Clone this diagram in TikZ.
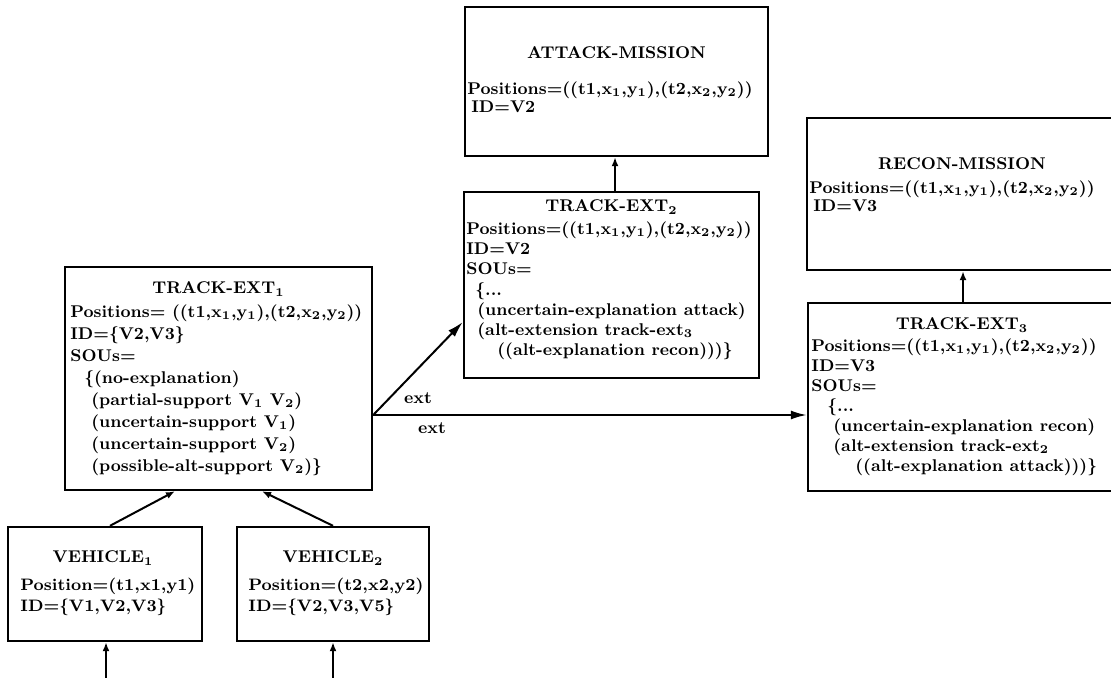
\documentclass[tikz,border=0pt]{standalone}
\usetikzlibrary{arrows.meta,calc}

% bold text face used in every box
\newcommand\boxface[2][8.5]{\fontsize{#1}{#2}\selectfont\bfseries\lineskiplimit=-10pt\lineskip=0pt}
\newcommand\sub[1]{\textsubscript{#1}}

\tikzset{
  frame/.style={draw, line width=1.2pt, inner sep=0pt},
  ttl/.style={inner sep=0pt, font=\boxface{10pt}},
  body/.style={inner sep=0pt, align=left, anchor=north west, font=\boxface{#1}},
  body/.default=10pt,
  vbody/.style={inner sep=0pt, align=left, anchor=north west, font=\boxface[8.3]{10.5pt}},
  link/.style={line width=1pt, -{Latex[length=4.5pt,width=3.5pt]}},
  extlink/.style={line width=1pt, -{Latex[length=8pt,width=4.5pt]}},
  tag/.style={inner sep=0pt, font=\boxface{10pt}},
}

\begin{document}
\begin{tikzpicture}[x=0.5pt, y=-0.5pt]
\useasboundingbox (0,0) rectangle (1111,678);

% ---------- frames ----------
\node[frame, minimum width=153.5pt, minimum height=111.5pt] (T1)  at (218.5,378.5) {};
\node[frame, minimum width=151.5pt, minimum height=74.5pt]  (ATT) at (616.5,81.5)  {};
\node[frame, minimum width=147.5pt, minimum height=93pt]    (T2)  at (611.5,285)   {};
\node[frame, minimum width=153.5pt, minimum height=76pt]    (REC) at (960.5,194)   {};
\node[frame, minimum width=153pt,   minimum height=94pt]    (T3)  at (961,397)     {};
\node[frame, minimum width=97pt,    minimum height=57pt]    (V1)  at (105,584)     {};
\node[frame, minimum width=96pt,    minimum height=57pt]    (V2)  at (333,584)     {};

% ---------- titles ----------
\node[ttl] (T1t)  at (218.5,289) {TRACK-EXT\sub{1}};
\node[ttl] (ATTt) at (616.5,53)  {ATTACK-MISSION};
\node[ttl] (T2t)  at (611.5,207) {TRACK-EXT\sub{2}};
\node[ttl] (RECt) at (962,164)   {RECON-MISSION};
\node[ttl] (T3t)  at (962,325)   {TRACK-EXT\sub{3}};
\node[ttl] (V1t)  at (103,558)   {VEHICLE\sub{1}};
\node[ttl] (V2t)  at (333,558)   {VEHICLE\sub{2}};

% ---------- contents ----------
\node[body=11pt] (T1b) at (70,304) {%
Positions= ((t1,x\sub{1},y\sub{1}),(t2,x\sub{2},y\sub{2}))\\
ID=\{V2,V3\}\\
SOUs=\\
\hspace*{7pt}\{(no-explanation)\\
\hspace*{10.5pt}(partial-support V\sub{1} V\sub{2})\\
\hspace*{10.5pt}(uncertain-support V\sub{1})\\
\hspace*{10.5pt}(uncertain-support V\sub{2})\\
\hspace*{10.5pt}(possible-alt-support V\sub{2})\}};

\node[body=9pt] (ATTb) at (467,81) {%
Positions=((t1,x\sub{1},y\sub{1}),(t2,x\sub{2},y\sub{2}))\\
\hspace*{2pt}ID=V2};

\node[body=10.15pt] (T2b) at (466,221) {%
Positions=((t1,x\sub{1},y\sub{1}),(t2,x\sub{2},y\sub{2}))\\
ID=V2\\
SOUs=\\
\hspace*{4.5pt}\{...\\
\hspace*{5.5pt}(uncertain-explanation attack)\\
\hspace*{5.5pt}(alt-extension track-ext\sub{3}\\
\hspace*{15.5pt}((alt-explanation recon)))\}};

\node[body=9pt] (RECb) at (809,180) {%
Positions=((t1,x\sub{1},y\sub{1}),(t2,x\sub{2},y\sub{2}))\\
\hspace*{2pt}ID=V3};

\node[body=10pt] (T3b) at (811,338) {%
Positions=((t1,x\sub{1},y\sub{1}),(t2,x\sub{2},y\sub{2}))\\
ID=V3\\
SOUs=\\
\hspace*{8pt}\{...\\
\hspace*{11pt}(uncertain-explanation recon)\\
\hspace*{11pt}(alt-extension track-ext\sub{2}\\
\hspace*{22pt}((alt-explanation attack)))\}};

\node[vbody] (V1b) at (20,578) {%
Position=(t1,x1,y1)\\
ID=\{V1,V2,V3\}};

\node[vbody] (V2b) at (248,578) {%
Position=(t2,x2,y2)\\
ID=\{V2,V3,V5\}};

% ---------- connectors ----------
\coordinate (fork) at ([yshift=-18.25pt]T1.east);
\draw[extlink] (fork) -- ([yshift=-18.5pt]T2.west);
\draw[extlink] (fork) -- (fork -| T3.west);
\node[tag] (ext1) at (418,398) {ext};
\node[tag] (ext2) at (432,428) {ext};

\coordinate (t2top) at ([xshift=1.75pt]T2.north);
\draw[link] (t2top) -- (t2top |- ATT.south);
\coordinate (t3top) at ([xshift=1pt]T3.north);
\draw[link] (t3top) -- (t3top |- REC.south);

\draw[link] ([xshift=2.5pt]V1.north) -- ([xshift=-21.75pt]T1.south);
\draw[link] (V2.north) -- ([xshift=21.75pt]T1.south);

\coordinate (in1) at (106,678);
\coordinate (in2) at (333,678);
\draw[link] (in1) -- (in1 |- V1.south);
\draw[link] (in2) -- (in2 |- V2.south);
\end{tikzpicture}
\end{document}
